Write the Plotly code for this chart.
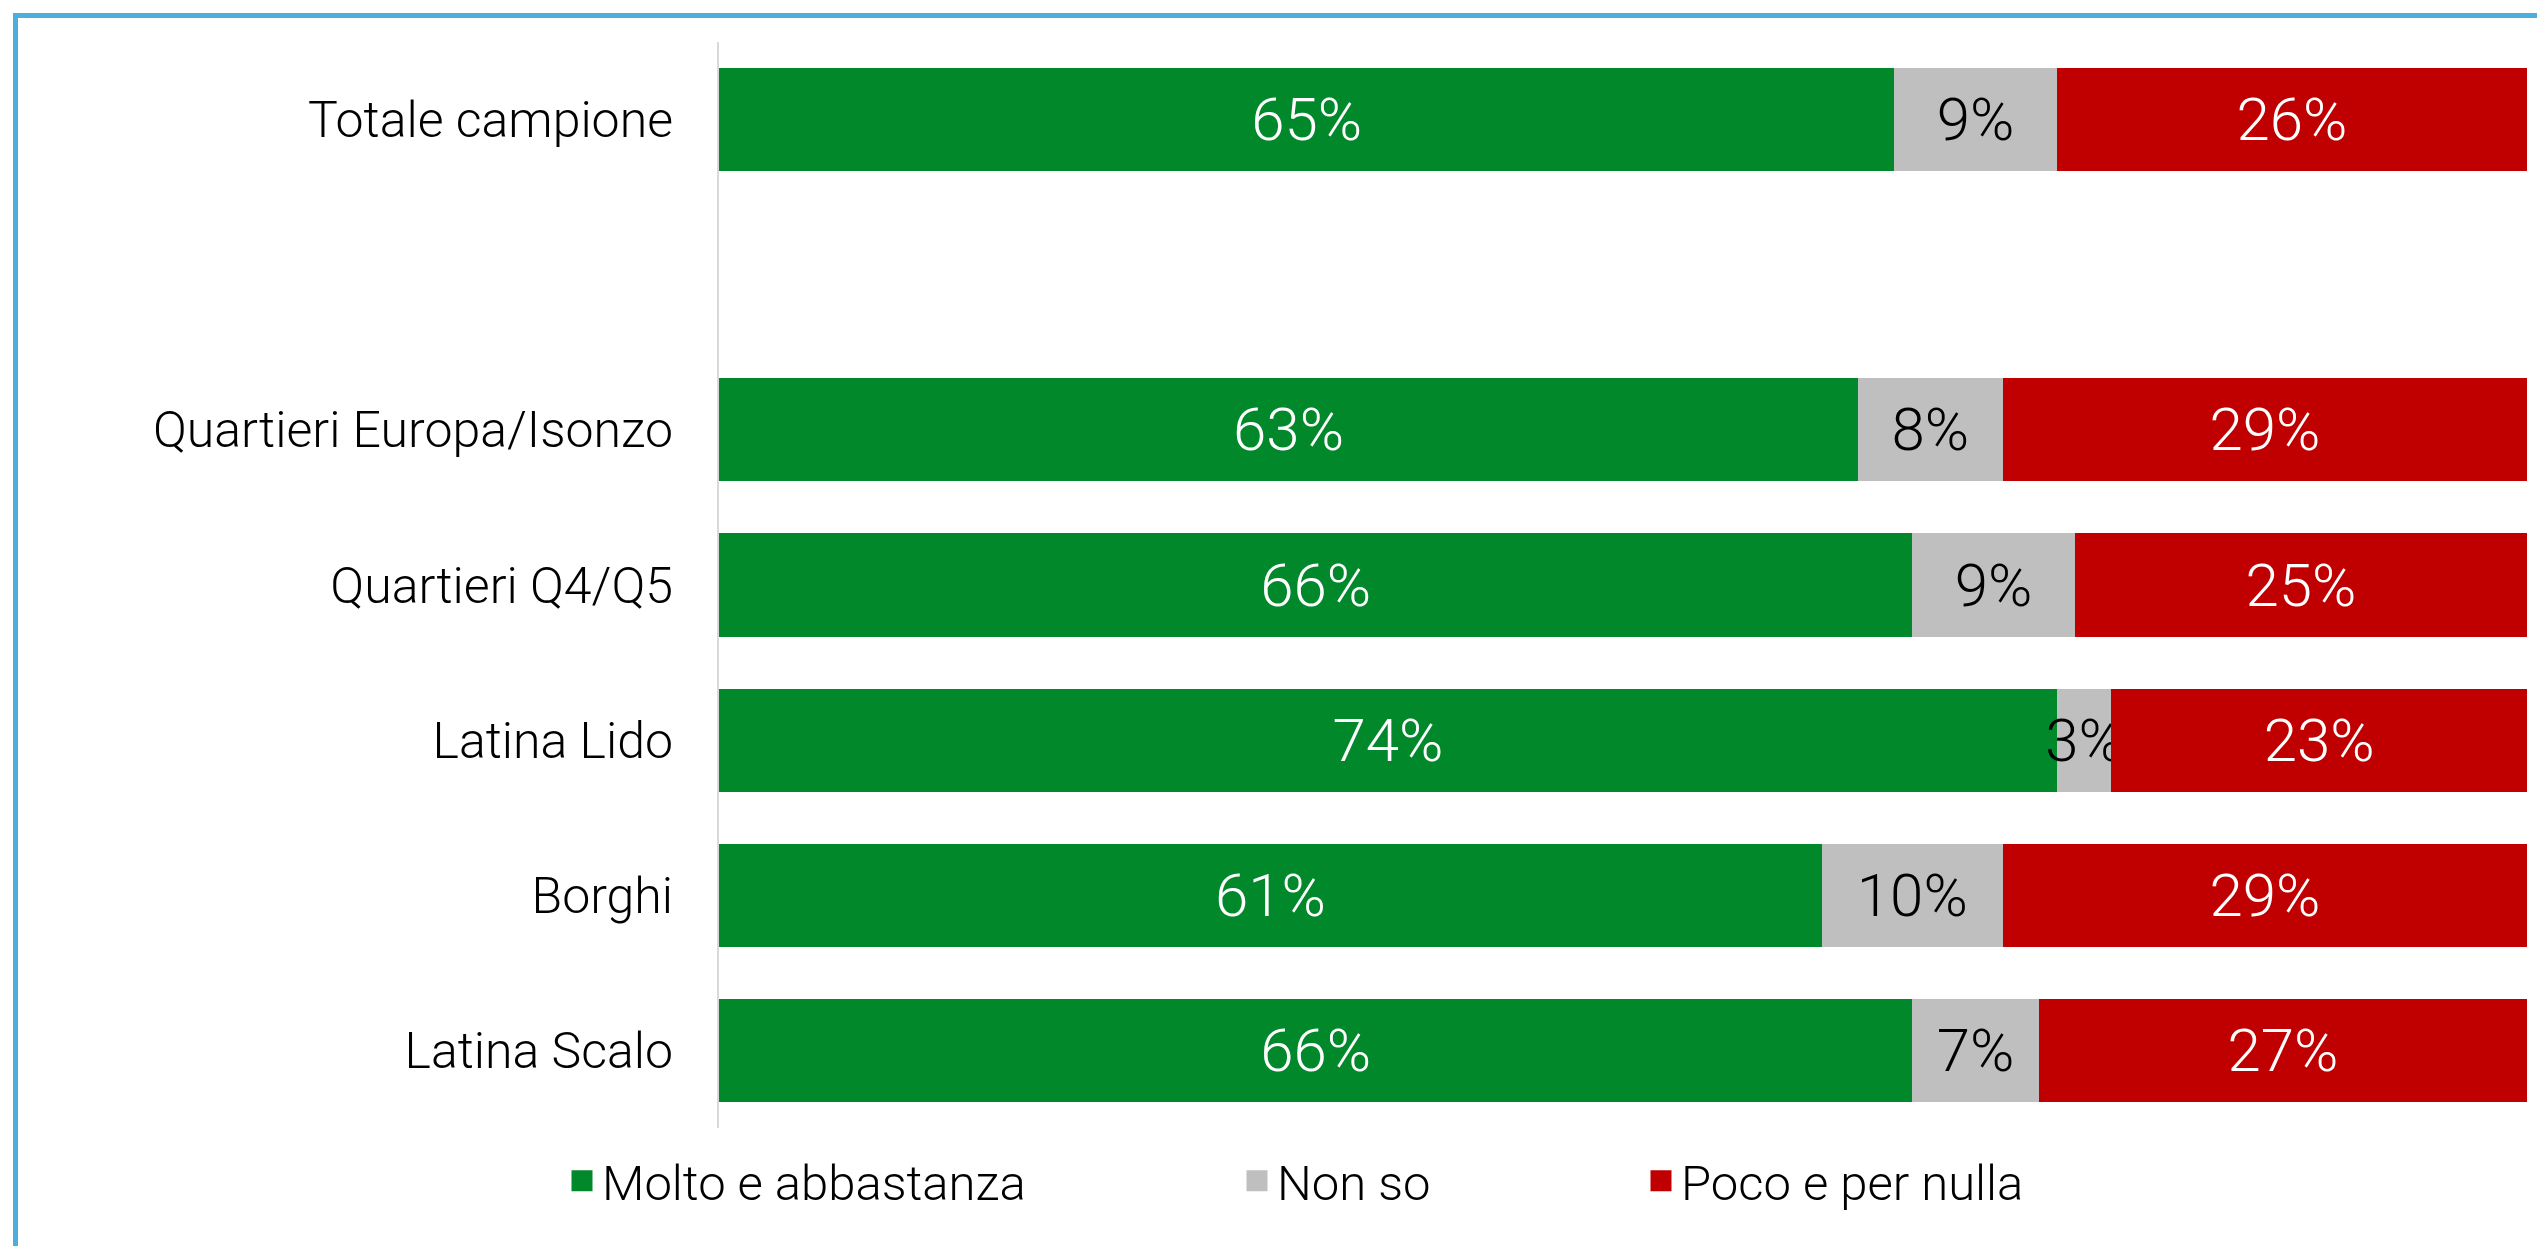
import plotly.graph_objects as go

# ---- data ----
categories = ["Totale campione", " ", "Quartieri Europa/Isonzo", "Quartieri Q4/Q5",
              "Latina Lido", "Borghi", "Latina Scalo"]
molto = [65, None, 63, 66, 74, 61, 66]
non_so = [9, None, 8, 9, 3, 10, 7]
poco = [26, None, 29, 25, 23, 29, 27]
series_names = ["Molto e abbastanza", "Non so", "Poco e per nulla"]

# ---- styling ----
OFF = 8  # default body margin of the html page
W, H = 2545 - OFF, 1246 - OFF
L, R, T = 719 - OFF, 18, 42 - OFF
PLOT_BOTTOM = 1128 - OFF
B = H - PLOT_BOTTOM
PW, PH = W - L - R, H - T - B
colors = ["#00882B", "#BFBFBF", "#C00000"]
text_colors = ["#FFFFFF", "#000000", "#FFFFFF"]
font_family = "Roboto, Liberation Sans, sans-serif"


def px_x(p):  # page pixel -> paper
    return (p - OFF - L) / PW


def px_y(p):
    return (PLOT_BOTTOM - (p - OFF)) / PH


fig = go.Figure()
values = [molto, non_so, poco]
legend_ids = ["legend", "legend2", "legend3"]
for i in range(3):
    fig.add_trace(go.Bar(
        y=categories, x=values[i], orientation="h", name=series_names[i],
        marker=dict(color=colors[i], line=dict(width=0)),
        texttemplate="%{x}%", textposition="inside", insidetextanchor="middle",
        constraintext="none", textangle=0,
        textfont=dict(family=font_family, size=60, color=text_colors[i], weight=300),
        showlegend=False, legendgroup=series_names[i], hoverinfo="skip",
    ))
    # legend-only marker with a larger square swatch
    fig.add_trace(go.Scatter(
        x=[None], y=[None], mode="markers", name=series_names[i],
        marker=dict(symbol="square", size=16, color=colors[i],
                    line=dict(width=5, color=colors[i])),
        legendgroup=series_names[i], legend=legend_ids[i], showlegend=True,
    ))

legend_lefts = [562, 1237, 1641]
legend_y = px_y(1181)
leg_common = dict(orientation="h", yanchor="middle", xanchor="left",
                  font=dict(family=font_family, size=49, color="#000000", weight=300),
                  bgcolor="rgba(0,0,0,0)", borderwidth=0, itemclick=False,
                  itemdoubleclick=False)

fig.update_layout(
    width=W, height=H,
    margin=dict(l=L, r=R, t=T, b=B),
    paper_bgcolor="white", plot_bgcolor="white",
    barmode="stack", bargap=0.335,
    xaxis=dict(range=[0, 100], visible=False, showgrid=False, zeroline=False,
               fixedrange=True),
    yaxis=dict(categoryorder="array", categoryarray=categories, autorange="reversed",
               showgrid=False, zeroline=False, showline=True, linecolor="#D9D9D9",
               linewidth=2, ticks="", ticklabelstandoff=34,
               tickfont=dict(family=font_family, size=50, color="#000000", weight=300),
               fixedrange=True),
    legend=dict(x=px_x(legend_lefts[0]), y=legend_y, **leg_common),
    legend2=dict(x=px_x(legend_lefts[1]), y=legend_y, **leg_common),
    legend3=dict(x=px_x(legend_lefts[2]), y=legend_y, **leg_common),
    shapes=[dict(type="rect", xref="paper", yref="paper",
                 x0=px_x(15.5), x1=px_x(2600), y0=px_y(15.5), y1=px_y(1300),
                 line=dict(color="#4AAEDF", width=5), fillcolor="rgba(0,0,0,0)",
                 layer="above")],
    showlegend=True,
)

fig.write_html("out.html")
